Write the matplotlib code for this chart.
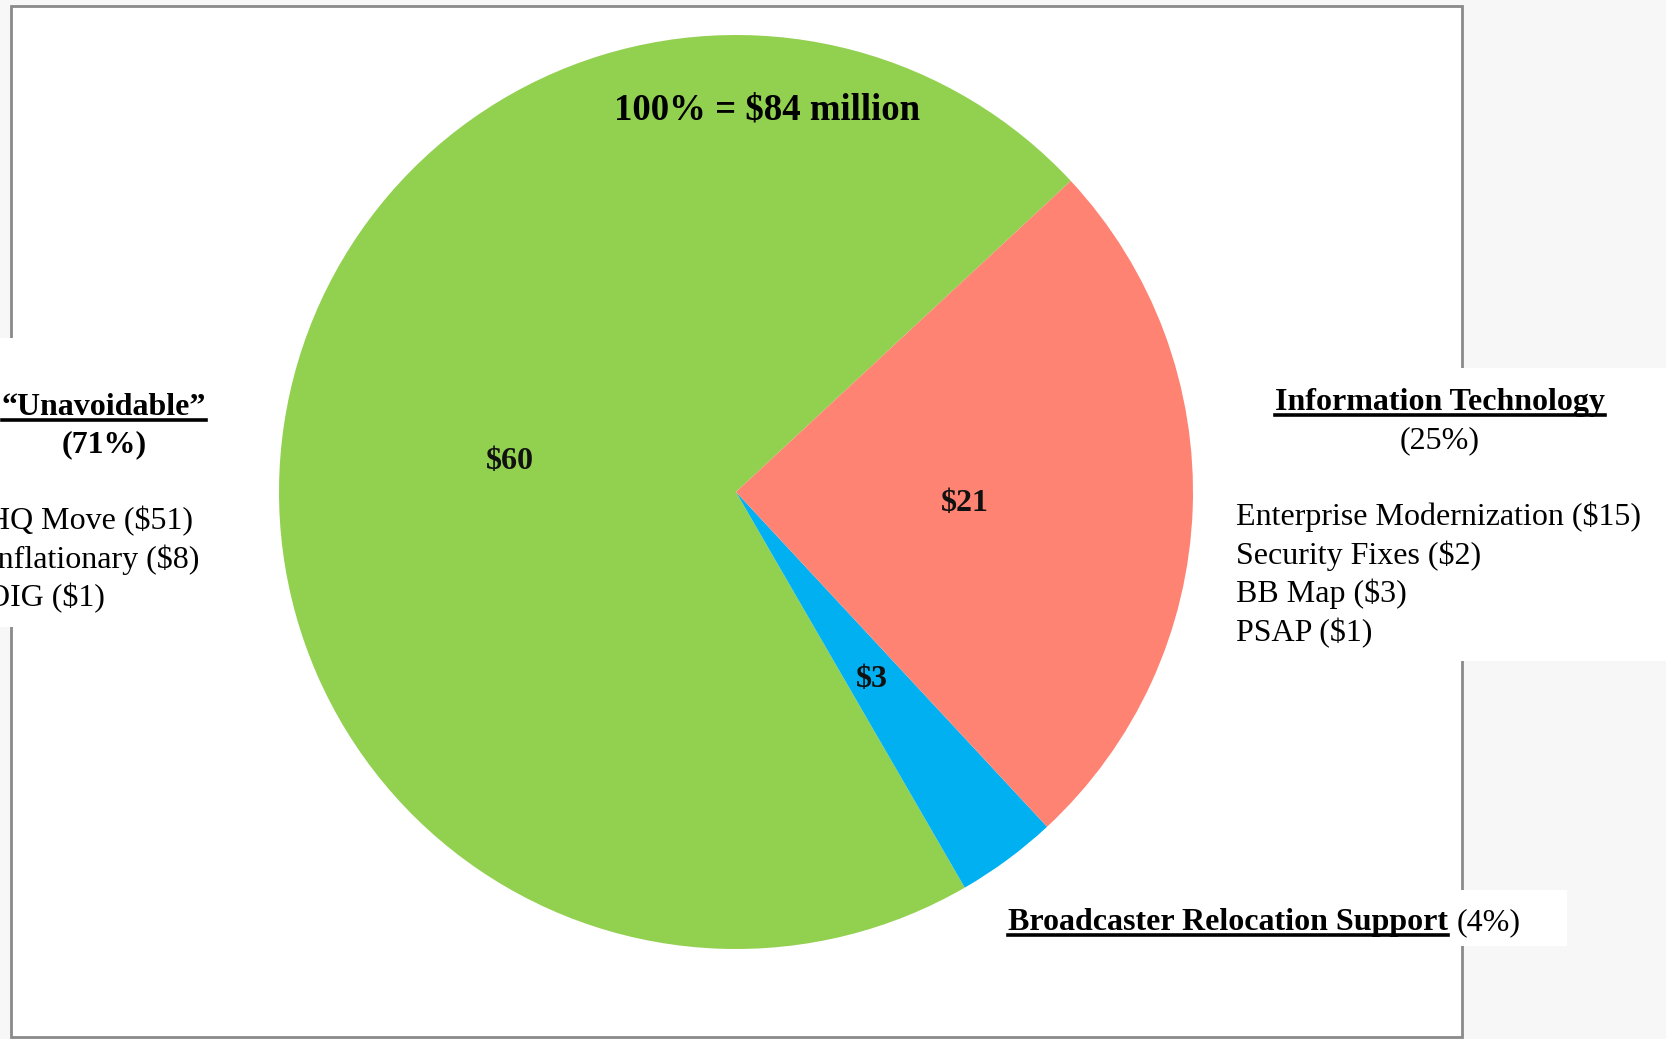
"""Pie chart: budget breakdown, $84 million total."""
import matplotlib
matplotlib.use("Agg")
import matplotlib.pyplot as plt
from matplotlib.patches import Rectangle
from matplotlib.lines import Line2D

W, H = 1666, 1039

# data
categories = ["Unavoidable", "Broadcaster Relocation Support", "Information Technology"]
amounts = [60, 3, 21]          # $ millions
shares = [71, 4, 25]           # percent, as printed
colors = ["#92D050", "#00B0F0", "#FF8373"]
unavoidable_items = ["HQ Move ($51)", "Inflationary ($8)", "OIG ($1)"]
it_items = ["Enterprise Modernization ($15)", "Security Fixes ($2)",
            "BB Map ($3)", "PSAP ($1)"]
total = sum(amounts)

plt.rcParams["font.family"] = ["Liberation Serif", "DejaVu Serif"]

fig = plt.figure(figsize=(W / 100, H / 100), dpi=100)
fig.patch.set_facecolor("#f7f7f7")


def fx(x):
    return x / W


def fy(y):
    return 1 - y / H


# white slide frame (below the pie axes)
fig.patches.append(Rectangle((fx(11), fy(1037)), fx(1462) - fx(11), fy(6) - fy(1037),
                             transform=fig.transFigure, facecolor="white",
                             edgecolor="#8a8a8a", linewidth=2, zorder=-2))

# pie axes: centre (736, 492) px, radius 457 px
cx, cy, r = 736, 492, 457
ax = fig.add_axes([fx(cx - r), fy(cy + r), 2 * r / W, 2 * r / H])
_, _, autotexts = ax.pie(amounts, colors=colors, startangle=42.9, counterclock=True,
                         autopct=lambda p: f"${p * total / 100:.0f}", pctdistance=0.5,
                         textprops=dict(fontsize=23, fontweight="bold", color="#111111"),
                         wedgeprops=dict(linewidth=0))
for at in autotexts:
    at.set_va("center_baseline")
ax.set_xlim(-1, 1)
ax.set_ylim(-1, 1)
ax.set_aspect("equal")
ax.axis("off")

fig.text(fx(767), fy(119), f"100% = ${total} million", ha="center", va="baseline",
         fontsize=26.5, fontweight="bold")

# white boxes behind the side texts (they cover the frame border)
for x0, y0, x1, y1 in [(0, 338, 212, 627), (1225, 368, 1666, 661), (1000, 890, 1567, 946)]:
    fig.patches.append(Rectangle((fx(x0), fy(y1)), fx(x1) - fx(x0), fy(y0) - fy(y1),
                                 transform=fig.transFigure, facecolor="white",
                                 edgecolor="none", zorder=-1))

renderer = fig.canvas.get_renderer()


def underline(t, y_px):
    bb = t.get_window_extent(renderer)
    fig.lines.append(Line2D([bb.x0 / W, bb.x1 / W], [fy(y_px), fy(y_px)],
                            transform=fig.transFigure, color="black", linewidth=2.6))


FS = 23

# left block
t = fig.text(fx(104), fy(415), "\u201cUnavoidable\u201d", ha="center", va="baseline",
             fontsize=FS, fontweight="bold")
underline(t, 420)
fig.text(fx(104), fy(452), f"({shares[0]}%)", ha="center", va="baseline",
         fontsize=FS, fontweight="bold")
for i, item in enumerate(unavoidable_items):
    fig.text(fx(-13), fy(529 + 38.6 * i), item, ha="left", va="baseline", fontsize=FS)

# right block
t = fig.text(fx(1440), fy(410), categories[2], ha="center", va="baseline",
             fontsize=FS, fontweight="bold")
underline(t, 415)
fig.text(fx(1440), fy(448), f"({shares[2]}%)", ha="center", va="baseline", fontsize=FS)
for i, item in enumerate(it_items):
    fig.text(fx(1236), fy(525 + 38.6 * i), item, ha="left", va="baseline", fontsize=FS)

# bottom block
t = fig.text(fx(1008), fy(930), categories[1], ha="left", va="baseline",
             fontsize=FS, fontweight="bold")
underline(t, 935)
bb = t.get_window_extent(renderer)
fig.text(bb.x1 / W + fx(9), fy(930), f"({shares[1]}%)", ha="left", va="baseline",
         fontsize=FS)

fig.savefig("out.png", dpi=100, facecolor=fig.get_facecolor())
